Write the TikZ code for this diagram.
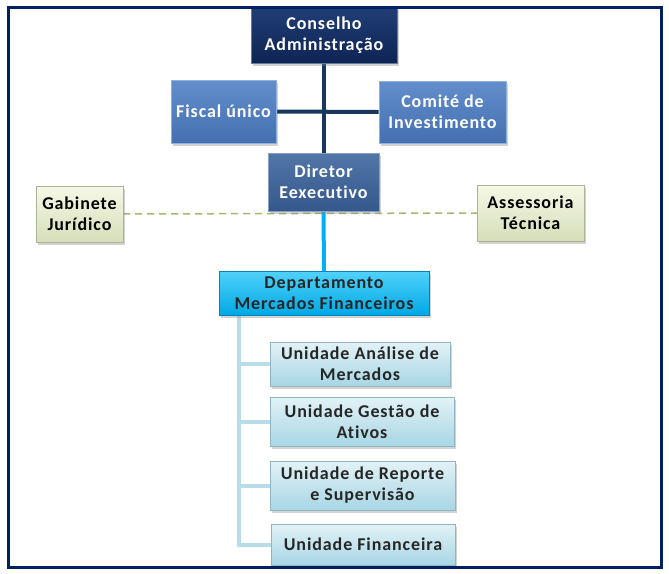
\documentclass[tikz,border=0pt]{standalone}
\usepackage{fontspec}
\setmainfont{Carlito}[LetterSpace=5, Ligatures={NoCommon}]
\usetikzlibrary{shadows}
\pgfdeclarelayer{background}
\pgfsetlayers{background,main}
\definecolor{frame}{RGB}{0,32,96}
\definecolor{navyA}{RGB}{32,62,118}
\definecolor{navyB}{RGB}{14,36,84}
\definecolor{midA}{RGB}{98,142,204}
\definecolor{midB}{RGB}{68,112,176}
\definecolor{dirA}{RGB}{82,118,168}
\definecolor{dirB}{RGB}{52,88,140}
\definecolor{oliA}{RGB}{246,248,230}
\definecolor{oliB}{RGB}{214,222,186}
\definecolor{cyA}{RGB}{80,210,250}
\definecolor{cyB}{RGB}{0,168,228}
\definecolor{ltA}{RGB}{226,242,247}
\definecolor{ltB}{RGB}{168,214,228}
\definecolor{navyline}{RGB}{23,55,94}
\definecolor{cyline}{RGB}{0,176,240}
\definecolor{ltline}{RGB}{183,222,232}
\definecolor{dashline}{RGB}{165,185,110}
\begin{document}
\begin{tikzpicture}[x=1pt,y=-1pt,
  box/.style={rectangle, inner sep=0pt, align=center, font=\bfseries\fontsize{18}{21}\selectfont,
    drop shadow={opacity=0.35, shadow xshift=2pt, shadow yshift=-2.5pt}},
  navybox/.style={box, top color=navyA, bottom color=navyB, draw=navyA!70!white, line width=0.6pt, text=white},
  midbox/.style={box, top color=midA, bottom color=midB, draw=midA!70!white, line width=0.6pt, text=white},
  dirbox/.style={box, top color=dirA, bottom color=dirB, draw=dirA!70!white, line width=0.6pt, text=white},
  olibox/.style={box, top color=oliA, bottom color=oliB, draw=oliB!80!black, line width=0.4pt, text=black},
  cybox/.style={box, top color=cyA, bottom color=cyB, draw=cyB!80!black, line width=0.4pt, text=black!85},
  ltbox/.style={box, top color=ltA, bottom color=ltB, draw=ltB!85!black, line width=0.4pt, text=black!85},
  navyconn/.style={draw=navyline, line width=4pt},
  cyconn/.style={draw=cyline, line width=4pt},
  ltconn/.style={draw=ltline, line width=4pt},
  dashconn/.style={draw=dashline, line width=1.5pt, dash pattern=on 7pt off 5pt}]
\useasboundingbox (0,0) rectangle (669,573);
\begin{pgfonlayer}{background}
\fill[white] (0,0) rectangle (669,573);
\end{pgfonlayer}

\coordinate (trunk) at (239,312);
\node[navybox, minimum width=146pt, minimum height=56pt] (cons) at (324,35) {Conselho\\Administração};
\node[midbox, minimum width=105pt, minimum height=63pt] (fis) at (223.5,111.5) {Fiscal único};
\node[midbox, minimum width=127pt, minimum height=62pt] (com) at (442.5,112) {Comité de\\Investimento};
\node[dirbox, minimum width=111pt, minimum height=58pt] (dir) at (323.5,182) {Diretor\\Eexecutivo};
\node[olibox, minimum width=87pt, minimum height=56pt] (gab) at (79.5,214) {Gabinete\\Jurídico};
\node[olibox, minimum width=107pt, minimum height=56pt] (ass) at (530.5,213) {Assessoria\\Técnica};
\node[cybox, minimum width=210pt, minimum height=44pt] (dep) at (324,293) {Departamento\\Mercados Financeiros};
\node[ltbox, minimum width=180pt, minimum height=44pt] (u1) at (360,364) {Unidade Análise de\\Mercados};
\node[ltbox, minimum width=184pt, minimum height=49pt] (u2) at (362,421.5) {Unidade Gestão de\\Ativos};
\node[ltbox, minimum width=185pt, minimum height=49pt] (u3) at (362.5,485.5) {Unidade de Reporte\\e Supervisão};
\node[ltbox, minimum width=184pt, minimum height=41pt] (u4) at (363,544.5) {Unidade Financeira};

\begin{pgfonlayer}{background}
\path[navyconn] (cons.south) -- (cons.south |- dir.north);
\path[navyconn] (fis.east) -- (com.west);
\path[dashconn] (gab.east) -- (ass.west);
\path[cyconn] (dir.south) -- (dep.north);
\path[ltconn] (trunk) |- (u4.west);
\path[ltconn] (trunk |- u1.west) -- (u1.west);
\path[ltconn] (trunk |- u2.west) -- (u2.west);
\path[ltconn] (trunk |- u3.west) -- (u3.west);
\end{pgfonlayer}

\draw[frame, line width=3pt] (8.5,7.5) rectangle (661.5,567.5);
\end{tikzpicture}
\end{document}
